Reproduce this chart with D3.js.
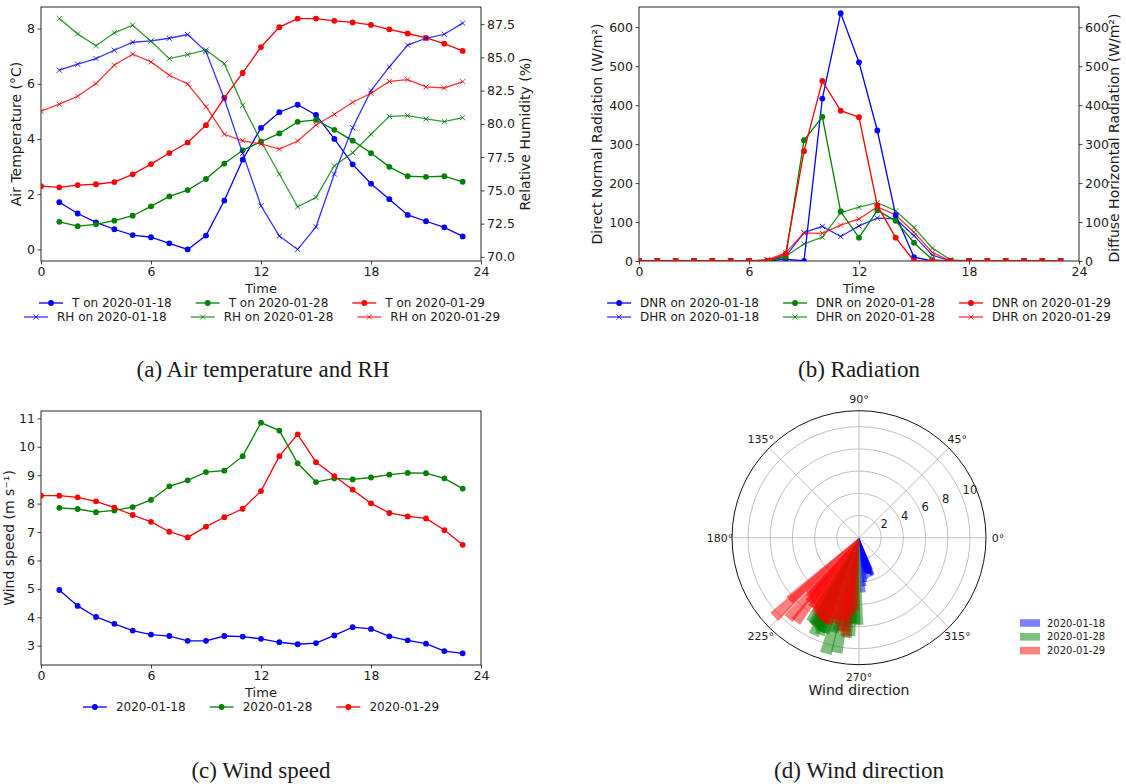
<!DOCTYPE html>
<html><head><meta charset="utf-8">
<script src="https://cdn.jsdelivr.net/npm/d3@7"></script>
<style>
body{margin:0;background:#fff;}
svg{display:block;background:#fff;}
text{font-family:"DejaVu Sans",sans-serif;fill:#1a1a1a;}
.cap{font-family:"Liberation Serif",serif;}
</style></head><body>
<svg id="c" width="1126" height="784"></svg>
<script>
// ---------------- DATA ----------------
const hours23 = d3.range(1, 24);      // 1..23
const hours24 = d3.range(0, 24);      // 0..23
const timeTicks = [0, 6, 12, 18, 24];
const dates = ["2020-01-18", "2020-01-28", "2020-01-29"];
const colors = ["#0000ff", "#008000", "#ff0000"];

// (a) Air temperature (°C) and RH (%)
const T_0118 = [1.71,1.30,0.98,0.73,0.52,0.44,0.22,0.00,0.50,1.77,3.25,4.40,4.97,5.24,4.87,4.00,3.08,2.38,1.82,1.25,1.02,0.80,0.47];
const T_0128 = [1.00,0.84,0.91,1.04,1.22,1.56,1.92,2.15,2.55,3.11,3.59,3.90,4.20,4.62,4.69,4.33,3.94,3.49,2.99,2.65,2.63,2.65,2.45];
const T_0129 = [2.29,2.25,2.33,2.36,2.44,2.72,3.09,3.49,3.87,4.50,5.49,6.39,7.33,8.05,8.36,8.36,8.28,8.22,8.13,7.97,7.82,7.66,7.45,7.19];
const RH_0118 = [84.04,84.49,84.91,85.54,86.14,86.24,86.44,86.72,85.44,81.87,77.79,73.84,71.56,70.56,72.26,76.23,79.71,82.50,84.28,85.92,86.44,86.74,87.58];
const RH_0128 = [87.92,86.77,85.87,86.85,87.42,86.22,84.91,85.21,85.56,84.53,81.40,78.69,76.23,73.77,74.47,76.85,77.83,79.22,80.57,80.62,80.37,80.17,80.47];
const RH_0129 = [80.95,81.48,82.08,83.03,84.43,85.24,84.66,83.66,83.00,81.30,79.22,78.73,78.49,78.11,78.71,79.92,80.72,81.63,82.30,83.20,83.33,82.78,82.70,83.18];
const tTicks = [0, 2, 4, 6, 8];
const rhTicks = [70, 72.5, 75, 77.5, 80, 82.5, 85, 87.5];

// (b) Radiation (W/m²), hours 0..23
const DNR_0118 = [0,0,0,0,0,0,0,0,5,0,417,636,510,335,118,10,0,0,0,0,0,0,0,0];
const DNR_0128 = [0,0,0,0,0,0,0,0,10,310,370,127,60,130,103,47,3,0,0,0,0,0,0,0];
const DNR_0129 = [0,0,0,0,0,0,0,0,18,282,462,386,369,142,60,0,0,0,0,0,0,0,0,0];
const DHR_0118 = [0,0,0,0,0,0,0,2,12,73,89,63,90,110,108,65,15,0,0,0,0,0,0,0];
const DHR_0128 = [0,0,0,0,0,0,0,3,12,44,61,124,138,150,129,86,33,3,0,0,0,0,0,0];
const DHR_0129 = [0,0,0,0,0,0,0,3,21,72,71,92,108,139,118,74,22,0,0,0,0,0,0,0];
const radTicks = [0, 100, 200, 300, 400, 500, 600];

// (c) Wind speed (m/s)
const WS_0118 = [4.96,4.40,4.01,3.77,3.53,3.39,3.34,3.17,3.17,3.34,3.32,3.24,3.12,3.05,3.09,3.36,3.65,3.59,3.33,3.19,3.07,2.81,2.73];
const WS_0128 = [7.85,7.81,7.70,7.76,7.88,8.13,8.61,8.82,9.11,9.16,9.67,10.85,10.57,9.42,8.76,8.89,8.85,8.92,9.02,9.08,9.07,8.89,8.53];
const WS_0129 = [8.28,8.28,8.22,8.08,7.86,7.60,7.36,7.01,6.81,7.19,7.52,7.82,8.44,9.67,10.44,9.46,8.97,8.49,8.01,7.67,7.55,7.48,7.07,6.55];
const wsTicks = [3, 4, 5, 6, 7, 8, 9, 10, 11];

// (d) Wind direction (degrees, counter-clockwise from east)
const WD_0118 = [274,276,278,281,289,287,285,283,280,282,284,286,288,290,291,289,287,290,286,284,282,279,277];
const WD_0128 = [270,268,266,264,262,260,257,255,250,247,245,254,259,248,240,243,242,244,246,249,263,265,262];
const WD_0129 = [248,250,246,244,240,236,232,230,228,235,238,242,222,229,223,233,262,259,255,252,256,260,264,267];
const thetaTicks = [0, 45, 90, 135, 180, 225, 270, 315];
const rTicks = [2, 4, 6, 8, 10];

// ---------------- HELPERS ----------------
const svg = d3.select("#c");
const defs = svg.append("defs");
const TICKFS = 12.5, LABFS = 14, LEGFS = 12;
let clipN = 0;

function frame(x0, y0, x1, y1) {
  svg.append("rect").attr("x", x0).attr("y", y0).attr("width", x1 - x0).attr("height", y1 - y0)
    .attr("fill", "none").attr("stroke", "#111").attr("stroke-width", 0.9);
}
function clipGroup(x0, y0, x1, y1) {
  const id = "clip" + (clipN++);
  defs.append("clipPath").attr("id", id).append("rect")
    .attr("x", x0).attr("y", y0).attr("width", x1 - x0).attr("height", y1 - y0);
  return svg.append("g").attr("clip-path", `url(#${id})`);
}
function styleAxis(g) {
  g.select(".domain").remove();
  g.attr("font-family", "DejaVu Sans").attr("font-size", TICKFS);
  g.selectAll(".tick line").attr("stroke", "#111").attr("stroke-width", 0.8);
  g.selectAll(".tick text").attr("fill", "#1a1a1a");
}
function axis(gen, tx, ty) {
  const g = svg.append("g").attr("transform", `translate(${tx},${ty})`).call(gen);
  styleAxis(g);
  return g;
}
function drawMarker(g, x, y, color, marker, op) {
  if (marker === "o") {
    g.append("circle").attr("cx", x).attr("cy", y).attr("r", 2.9).attr("fill", color).attr("opacity", op);
  } else {
    const s = 2.6;
    g.append("path").attr("d", `M${x-s},${y-s}L${x+s},${y+s}M${x-s},${y+s}L${x+s},${y-s}`)
      .attr("stroke", color).attr("stroke-width", 1).attr("fill", "none").attr("opacity", op);
  }
}
function series(parent, xs, ys, xS, yS, color, marker, op) {
  const g = parent.append("g");
  const pts = xs.map((x, i) => [xS(x), yS(ys[i])]);
  g.append("path").attr("d", d3.line()(pts)).attr("fill", "none").attr("stroke", color)
    .attr("stroke-width", 1.3).attr("opacity", op);
  pts.forEach(p => drawMarker(g, p[0], p[1], color, marker, op));
}
function textW(s, fs) {
  const t = svg.append("text").attr("font-size", fs).attr("font-family", "DejaVu Sans").text(s);
  const w = t.node().getComputedTextLength();
  t.remove();
  return w;
}
function legend(rows, cx, ys, fs) {
  const ncol = rows[0].length;
  const colW = d3.range(ncol).map(c => d3.max(rows, r => textW(r[c].label, fs)));
  const handle = 24, pad = 9, colSp = 24;
  const total = d3.sum(colW) + ncol * (handle + pad) + (ncol - 1) * colSp;
  let x = cx - total / 2;
  const colX = [];
  for (let c = 0; c < ncol; c++) { colX.push(x); x += handle + pad + colW[c] + colSp; }
  const g = svg.append("g");
  rows.forEach((r, ri) => r.forEach((it, c) => {
    const y = ys[ri], x0 = colX[c];
    g.append("line").attr("x1", x0).attr("x2", x0 + handle).attr("y1", y).attr("y2", y)
      .attr("stroke", it.color).attr("stroke-width", 1.3).attr("opacity", it.op);
    drawMarker(g, x0 + handle / 2, y, it.color, it.marker, it.op);
    g.append("text").attr("x", x0 + handle + pad).attr("y", y).attr("dy", "0.35em")
      .attr("font-size", fs).text(it.label);
  }));
}
function vlabel(x, y, s) {
  svg.append("text").attr("transform", `translate(${x},${y}) rotate(-90)`).attr("text-anchor", "middle")
    .attr("dy", "0.35em").attr("font-size", LABFS).text(s);
}
function hlabel(x, y, s, fs) {
  svg.append("text").attr("x", x).attr("y", y).attr("text-anchor", "middle").attr("dy", "0.35em")
    .attr("font-size", fs || 13).text(s);
}
function caption(x, y, s) {
  svg.append("text").attr("class", "cap").attr("x", x).attr("y", y).attr("text-anchor", "middle")
    .attr("dy", "0.35em").attr("font-size", 23).attr("fill", "#000").text(s);
}

// ---------------- PANEL (a) ----------------
{
  const L = 41, R = 481, T = 7, B = 261;
  const x = d3.scaleLinear().domain([0, 24]).range([L, R]);
  const yT = d3.scaleLinear().domain([-0.42, 8.78]).range([B, T]);
  const yH = d3.scaleLinear().domain([69.69, 88.79]).range([B, T]);
  frame(L, T, R, B);
  const cg = clipGroup(L, T, R, B);
  const Ts = [[hours23, T_0118], [hours23, T_0128], [hours24, T_0129]];
  const Hs = [[hours23, RH_0118], [hours23, RH_0128], [hours24, RH_0129]];
  Ts.forEach((s, i) => series(cg, s[0], s[1], x, yT, colors[i], "o", 1));
  Hs.forEach((s, i) => series(cg, s[0], s[1], x, yH, colors[i], "x", 0.8));
  axis(d3.axisBottom(x).tickValues(timeTicks).tickSize(3.5).tickPadding(2.5), 0, B);
  axis(d3.axisLeft(yT).tickValues(tTicks).tickSize(3.5).tickPadding(2.5), L, 0);
  axis(d3.axisRight(yH).tickValues(rhTicks).tickFormat(d3.format(".1f")).tickSize(3.5).tickPadding(2.5), R, 0);
  vlabel(16, (T + B) / 2, "Air Temperature (°C)");
  vlabel(525, (T + B) / 2, "Relative Humidity (%)");
  hlabel((L + R) / 2, 288, "Time");
  legend([dates.map((d, i) => ({label: "T on " + d, color: colors[i], marker: "o", op: 1}))], (L + R) / 2 + 1, [303], LEGFS);
  legend([dates.map((d, i) => ({label: "RH on " + d, color: colors[i], marker: "x", op: 0.8}))], (L + R) / 2 + 1, [317], LEGFS);
  caption((L + R) / 2 + 2, 369, "(a) Air temperature and RH");
}

// ---------------- PANEL (b) ----------------
{
  const L = 639, R = 1079, T = 7, B = 261;
  const x = d3.scaleLinear().domain([0, 24]).range([L, R]);
  const y = d3.scaleLinear().domain([0, 652]).range([B, T]);
  frame(L, T, R, B);
  const cg = clipGroup(L, T, R, B);
  [DHR_0118, DHR_0128, DHR_0129].forEach((s, i) => series(cg, hours24, s, x, y, colors[i], "x", 0.8));
  [DNR_0118, DNR_0128, DNR_0129].forEach((s, i) => series(cg, hours24, s, x, y, colors[i], "o", 1));
  axis(d3.axisBottom(x).tickValues(timeTicks).tickSize(3.5).tickPadding(2.5), 0, B);
  axis(d3.axisLeft(y).tickValues(radTicks).tickSize(3.5).tickPadding(2.5), L, 0);
  axis(d3.axisRight(y).tickValues(radTicks).tickSize(3.5).tickPadding(2.5), R, 0);
  vlabel(597, (T + B) / 2, "Direct Normal Radiation (W/m²)");
  vlabel(1114, (T + B) / 2 + 4, "Diffuse Horizontal Radiation (W/m²)");
  hlabel((L + R) / 2, 288, "Time");
  legend([
    dates.map((d, i) => ({label: "DNR on " + d, color: colors[i], marker: "o", op: 1})),
    dates.map((d, i) => ({label: "DHR on " + d, color: colors[i], marker: "x", op: 0.8}))
  ], (L + R) / 2, [303, 317], LEGFS);
  caption((L + R) / 2, 369, "(b) Radiation");
}

// ---------------- PANEL (c) ----------------
{
  const L = 41, R = 481, T = 411, B = 665;
  const x = d3.scaleLinear().domain([0, 24]).range([L, R]);
  const y = d3.scaleLinear().domain([2.32, 11.26]).range([B, T]);
  frame(L, T, R, B);
  const cg = clipGroup(L, T, R, B);
  [[hours23, WS_0118], [hours23, WS_0128], [hours24, WS_0129]]
    .forEach((s, i) => series(cg, s[0], s[1], x, y, colors[i], "o", 1));
  axis(d3.axisBottom(x).tickValues(timeTicks).tickSize(3.5).tickPadding(2.5), 0, B);
  axis(d3.axisLeft(y).tickValues(wsTicks).tickSize(3.5).tickPadding(2.5), L, 0);
  vlabel(9, (T + B) / 2, "Wind speed (m s⁻¹)");
  hlabel((L + R) / 2, 692, "Time");
  legend([dates.map((d, i) => ({label: d, color: colors[i], marker: "o", op: 1}))], (L + R) / 2, [707], LEGFS);
  caption((L + R) / 2, 770, "(c) Wind speed");
}

// ---------------- PANEL (d) ----------------
{
  const cx = 859, cy = 537.7, Rr = 127;
  const r = d3.scaleLinear().domain([0, 11.44]).range([0, Rr]);
  const g = svg.append("g").attr("transform", `translate(${cx},${cy})`);
  const rad = a => a * Math.PI / 180;
  rTicks.forEach(v => g.append("circle").attr("r", r(v)).attr("fill", "none")
    .attr("stroke", "#b0b0b0").attr("stroke-width", 0.8));
  thetaTicks.forEach(a => g.append("line").attr("x1", 0).attr("y1", 0)
    .attr("x2", Rr * Math.cos(rad(a))).attr("y2", -Rr * Math.sin(rad(a)))
    .attr("stroke", "#b0b0b0").attr("stroke-width", 0.8));
  const barW = 0.1; // radians
  const arc = d3.arc().innerRadius(0);
  const fills = ["rgba(0,0,255,0.5)", "rgba(0,128,0,0.5)", "rgba(255,0,0,0.5)"];
  [[WD_0118, WS_0118], [WD_0128, WS_0128], [WD_0129, WS_0129]].forEach((s, i) => {
    s[0].forEach((dir, k) => {
      const a = Math.PI / 2 - rad(dir);
      g.append("path").attr("d", arc({outerRadius: r(s[1][k]), startAngle: a - barW / 2, endAngle: a + barW / 2}))
        .attr("fill", fills[i]);
    });
  });
  g.append("circle").attr("r", Rr).attr("fill", "none").attr("stroke", "#111").attr("stroke-width", 1);
  thetaTicks.forEach(a => g.append("text").attr("x", 139 * Math.cos(rad(a))).attr("y", -139 * Math.sin(rad(a)))
    .attr("text-anchor", "middle").attr("dy", "0.35em").attr("font-size", 11).text(a + "°"));
  rTicks.forEach(v => g.append("text").attr("x", r(v) * Math.cos(rad(22.5))).attr("y", -r(v) * Math.sin(rad(22.5)))
    .attr("font-size", 11.5).attr("dx", 1).attr("dy", -1).text(v));
  hlabel(cx, 690, "Wind direction", 14);
  const lg = svg.append("g");
  dates.forEach((d, i) => {
    const y = 623 + i * 13.8;
    lg.append("rect").attr("x", 1020).attr("y", y - 3.8).attr("width", 20).attr("height", 7.6).attr("fill", fills[i]);
    lg.append("text").attr("x", 1047).attr("y", y).attr("dy", "0.35em").attr("font-size", 10).text(d);
  });
  caption(cx, 770, "(d) Wind direction");
}
</script>
</body></html>
